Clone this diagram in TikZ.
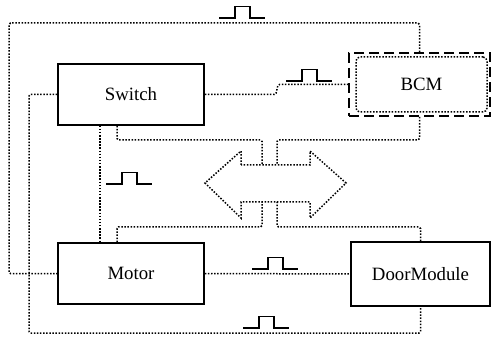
\documentclass[tikz,border=0pt]{standalone}
\usepackage{fontspec}
\setmainfont{Liberation Serif}

\begin{document}
\begin{tikzpicture}[x=1pt,y=-1pt]
  \tikzstyle{unit}=[draw,line width=1.6pt,minimum width=146pt,minimum height=61pt,inner sep=0pt,font=\fontsize{18.8}{22}\selectfont]
  \tikzstyle{link}=[line width=1.5pt,dash pattern=on 1.5pt off 1.6pt,rounded corners=1.5pt]
  \tikzstyle{frame}=[draw,line width=1.8pt,dash pattern=on 10pt off 5pt,minimum width=141pt,minimum height=63pt]
  \tikzset{pics/pulse/.style={code={\draw [line width=1.5pt] (0,0) -- (16,0) -- (16,-11.5) -- (31,-11.5) -- (31,0) -- (46,0) ;}}}
  \useasboundingbox (0,0) rectangle (491,337) ;
  \node [unit] (switch) at (131,94.5) {Switch} ;
  \node [unit] (motor) at (131,273.5) {Motor} ;
  \node [unit,minimum width=139pt,minimum height=64pt] (door) at (420.5,274) {DoorModule} ;
  \node [frame] (bcmframe) at (419.5,84.5) {} ;
  \node [unit,link,rounded corners=4pt,minimum width=131pt,minimum height=55pt] (bcm) at (421.5,84.5) {BCM} ;
  \coordinate (topleft) at (9,23) ;
  \coordinate (botleft) at (29,333) ;
  \coordinate (busTL) at (262,165) ;
  \coordinate (busTR) at (277,165) ;
  \coordinate (busBL) at (262,202) ;
  \coordinate (busBR) at (277,202) ;
  \draw [link,sharp corners] (241,165) -- (241,151) -- (205,183) -- (241,218) -- (241,202) -- (310,202) -- (310,218) -- (346,183) -- (310,151) -- (310,165) -- cycle ;
  \draw [link] (bcmframe.north) |- (topleft) |- (motor.west) ;
  \draw [link] (switch.west) -| (botleft) -| (door.south) ;
  \draw [link] ([xshift=-31pt]switch.south) -- ([xshift=-31pt]motor.north) ;
  \draw [link] ([xshift=-14pt]switch.south) |- ([yshift=25pt]busTL) -- (busTL) ;
  \draw [link] (bcmframe.south) |- ([yshift=25pt]busTR) -- (busTR) ;
  \draw [link] ([xshift=-14pt]motor.north) |- ([yshift=-25pt]busBL) -- (busBL) ;
  \draw [link] (door.north) |- ([yshift=-25pt]busBR) -- (busBR) ;
  \draw [link] (switch.east) -- ++(71,0) -- ([xshift=-70pt]bcmframe.west) -- (bcmframe.west) ;
  \draw [link] (motor.east) -- (door.west) ;
  \pic at (219,18) {pulse} ;
  \pic at (286,81) {pulse} ;
  \pic at (106,184) {pulse} ;
  \pic at (252,269) {pulse} ;
  \pic at (243,328) {pulse} ;
\end{tikzpicture}
\end{document}
